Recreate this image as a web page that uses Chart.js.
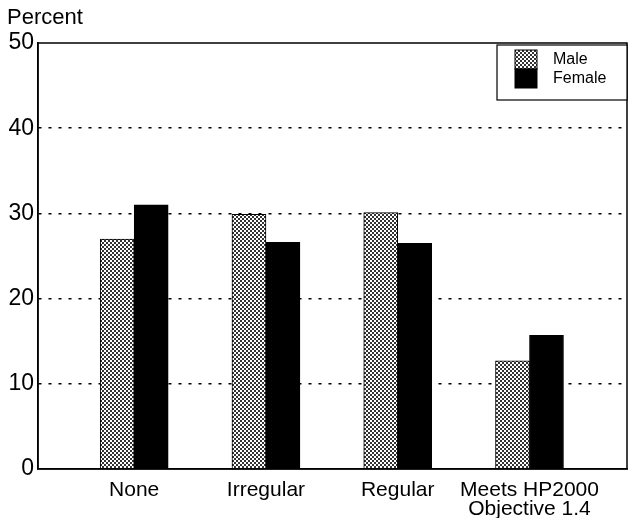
<!DOCTYPE html>
<html>
<head>
<meta charset="utf-8">
<script src="https://cdn.jsdelivr.net/npm/chart.js@4/dist/chart.umd.min.js"></script>
<style>
    html, body { margin: 0; padding: 0; background: #fff; }
    #wrap { width: 629px; height: 518px; }
</style>
</head>
<body>
<div id="wrap"><canvas id="chart" width="629" height="518"></canvas></div>
<script>
// ------------------------
// Data
// ------------------------

const categories = ["None", "Irregular", "Regular", ["Meets HP2000", "Objective 1.4"]];
const maleValues = [27, 29.9, 30.1, 12.7];
const femaleValues = [31, 26.6, 26.5, 15.7];
const yTicks = [0, 10, 20, 30, 40, 50];

const FONT = "'Liberation Sans', Arial, Helvetica, sans-serif";

// stippled fill for the Male bars
function makeStipple() {
    const c = document.createElement("canvas");
    c.width = 4;
    c.height = 4;
    const g = c.getContext("2d");
    g.fillStyle = "#ffffff";
    g.fillRect(0, 0, 4, 4);
    g.fillStyle = "#333333";
    g.fillRect(0, 0, 2, 2);
    g.fillRect(2, 2, 2, 2);
    return g.createPattern(c, "repeat");
}

const stipple = makeStipple();

// ------------------------
// Frame, title and legend
// ------------------------

const decorPlugin = {
    id: "decor",
    afterDraw(chart) {
        const ctx = chart.ctx;
        const a = chart.chartArea;
        ctx.save();

        ctx.strokeStyle = "#000";
        ctx.lineWidth = 1.5;
        ctx.strokeRect(a.left, a.top, a.right - a.left, a.bottom - a.top);

        ctx.fillStyle = "#000";
        ctx.font = "22px " + FONT;
        ctx.textBaseline = "middle";
        ctx.textAlign = "left";
        ctx.fillText("Percent", 7, 18);

        // legend box
        const bx = 497, by = 45, bw = a.right - 497, bh = 55;
        ctx.fillStyle = "#fff";
        ctx.fillRect(bx, by, bw, bh);
        ctx.lineWidth = 1.2;
        ctx.strokeRect(bx, by, bw, bh);

        const items = chart.data.datasets;
        items.forEach((ds, i) => {
            const sy = 50 + i * 19;
            ctx.fillStyle = ds.backgroundColor;
            ctx.fillRect(515, sy, 22, 19);
            ctx.strokeStyle = "#000";
            ctx.lineWidth = 1;
            ctx.strokeRect(515, sy, 22, 19);
            ctx.fillStyle = "#000";
            ctx.font = "16px " + FONT;
            ctx.fillText(ds.label, 553, sy + 10);
        });

        ctx.restore();
    }
};

// ------------------------
// Chart
// ------------------------

new Chart(document.getElementById("chart"), {

    type: "bar",

    data: {

        datasets: [
            {
                label: "Male",
                data: maleValues.map((v, i) => ({ x: i, y: v })),
                backgroundColor: stipple,
                borderColor: "#000",
                borderWidth: 1,
                barThickness: 34
            },
            {
                label: "Female",
                data: femaleValues.map((v, i) => ({ x: i, y: v })),
                backgroundColor: "#000",
                borderColor: "#000",
                borderWidth: 1,
                barThickness: 34
            }
        ]

    },

    options: {

        responsive: false,
        animation: false,
        layout: { padding: { top: 43, right: 2, left: 0, bottom: 0 } },

        plugins: {
            legend: { display: false },
            tooltip: { enabled: false }
        },

        scales: {

            x: {
                type: "linear",
                min: -0.73,
                max: 3.74,
                offset: false,
                bounds: "data",
                grid: { display: false },
                border: { color: "#000", width: 1.5 },
                afterBuildTicks: scale => {
                    scale.ticks = categories.map((c, i) => ({ value: i }));
                },
                afterFit: scale => { scale.height = 49; },
                ticks: {
                    color: "#000",
                    font: { family: FONT, size: 21, lineHeight: 0.9 },
                    padding: 4,
                    maxRotation: 0,
                    autoSkip: false,
                    callback: value => categories[value]
                }
            },

            y: {
                min: 0,
                max: 50,
                afterBuildTicks: scale => {
                    scale.ticks = yTicks.map(v => ({ value: v }));
                },
                afterFit: scale => { scale.width = 38; },
                grid: {
                    drawTicks: false,
                    color: c => (c.tick.value === 0 || c.tick.value === 50) ? "rgba(0,0,0,0)" : "#000",
                    lineWidth: 1.5
                },
                border: { color: "#000", width: 1.5, dash: [3, 7] },
                ticks: {
                    color: "#000",
                    font: { family: FONT, size: 23 },
                    padding: 4
                }
            }

        }

    },

    plugins: [decorPlugin]

});
</script>
</body>
</html>
